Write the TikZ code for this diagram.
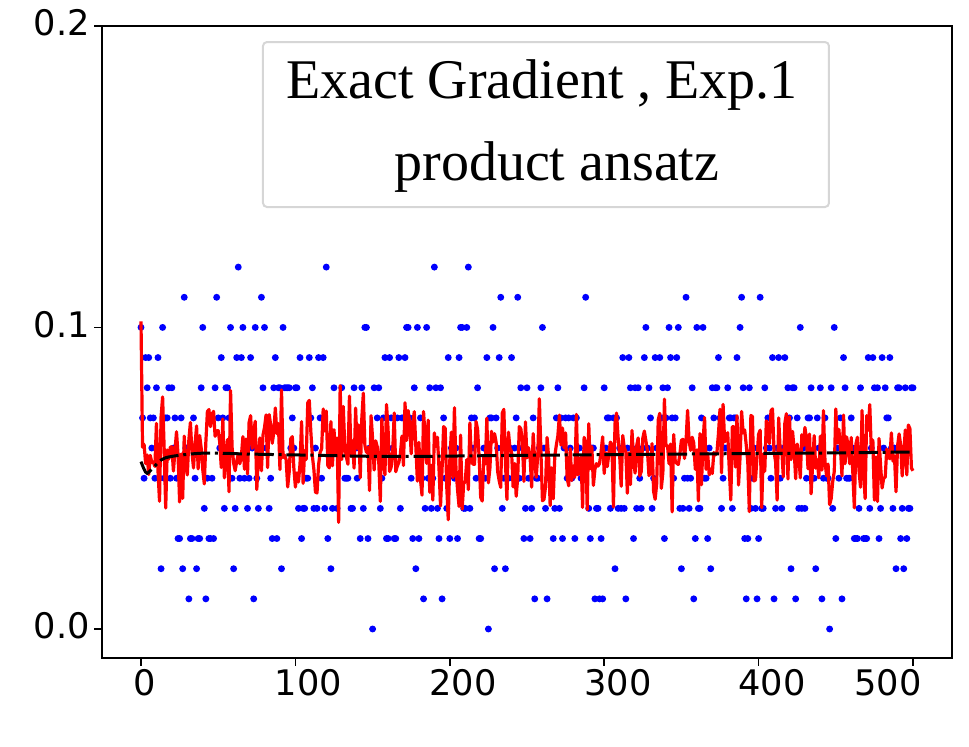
\documentclass[tikz,border=0pt]{standalone}
\usepackage{fontspec}
\newfontfamily\tickfont{DejaVu Sans}
\newfontfamily\legendfont{Liberation Serif}
\definecolor{myblue}{RGB}{0,0,255}
\definecolor{myred}{RGB}{255,0,0}
\definecolor{mygray}{RGB}{214,214,214}
\tikzstyle{frame}=[draw=black,line width=1.5pt]
\tikzstyle{tickmark}=[draw=black,line width=1.2pt]
\tikzstyle{ylabel}=[anchor=east,inner sep=0pt,font=\tickfont\fontsize{26.4}{30}\selectfont]
\tikzstyle{xlabel}=[anchor=north,inner sep=0pt,font=\tickfont\fontsize{26.4}{30}\selectfont]
\tikzstyle{sample}=[fill=myblue]
\tikzstyle{series}=[draw=myred,line width=2.4pt,line join=round]
\tikzstyle{average}=[draw=black,line width=2.25pt,dash pattern=on 14.4pt off 3.6pt on 2.25pt off 3.6pt]
\tikzstyle{legendbox}=[draw=mygray,fill=white,fill opacity=0.8,line width=1.5pt,rounded corners=3pt,inner sep=0pt]
\tikzstyle{title}=[anchor=base,inner sep=0pt,font=\legendfont\fontsize{42}{50}\selectfont]

\begin{document}
\begin{tikzpicture}[x=1.158pt,y=2262pt]
      \useasboundingbox (-91.32,-0.039125) rectangle (536.27,0.208554);
      \pgfmathsetseed{7}

      \fill[sample] (0,0.1) circle[radius=2.6pt];
      \foreach \i in {1,...,500}{
        \pgfmathsetmacro\v{max(0,round(5.8+2.5*(rand+rand+rand)))/100}
        \fill[sample] (\i,\v) circle[radius=2.6pt];
      }

      \draw[series] (0,0.102) \foreach \i in {1,...,500}{ -- (\i,{0.0585+0.0088*(rand+rand+rand)}) };
      \draw[average] plot[smooth] coordinates {(0,0.0555) (2,0.053) (4,0.0516) (8,0.0535) (16,0.0568)
        (40,0.0583) (70,0.058) (103,0.0577) (163,0.0572) (250,0.0576) (350,0.058) (450,0.0584) (500,0.0587)};

      \draw[frame] (-25,-0.0095) rectangle (525,0.2);

      \foreach \y [count=\k] in {0.0,0.1,0.2}{
        \draw[tickmark] (-25,\y) -- ++(-6pt,0);
        \node (ylab\k) [ylabel,xshift=-9.3pt,yshift=2.25pt] at (-25,\y) {\y};
      }
      \foreach \x/\lx [count=\k] in {0/2.6,100/108.5,200/208.5,300/308.9,400/408.7,500/483.8}{
        \draw[tickmark] (\x,-0.0095) -- ++(0,-6pt);
        \node (xlab\k) [xlabel] at (\lx,-0.01343) {\x};
      }

      \node (legend) [legendbox,minimum width=424.5pt,minimum height=123.75pt] at (262.3,0.16727) {};
      \node (title1) [title] at (259.7,0.17596) {Exact Gradient , Exp.1};
      \node (title2) [title] at (269.4,0.14887) {product ansatz};
    \end{tikzpicture}
\end{document}
